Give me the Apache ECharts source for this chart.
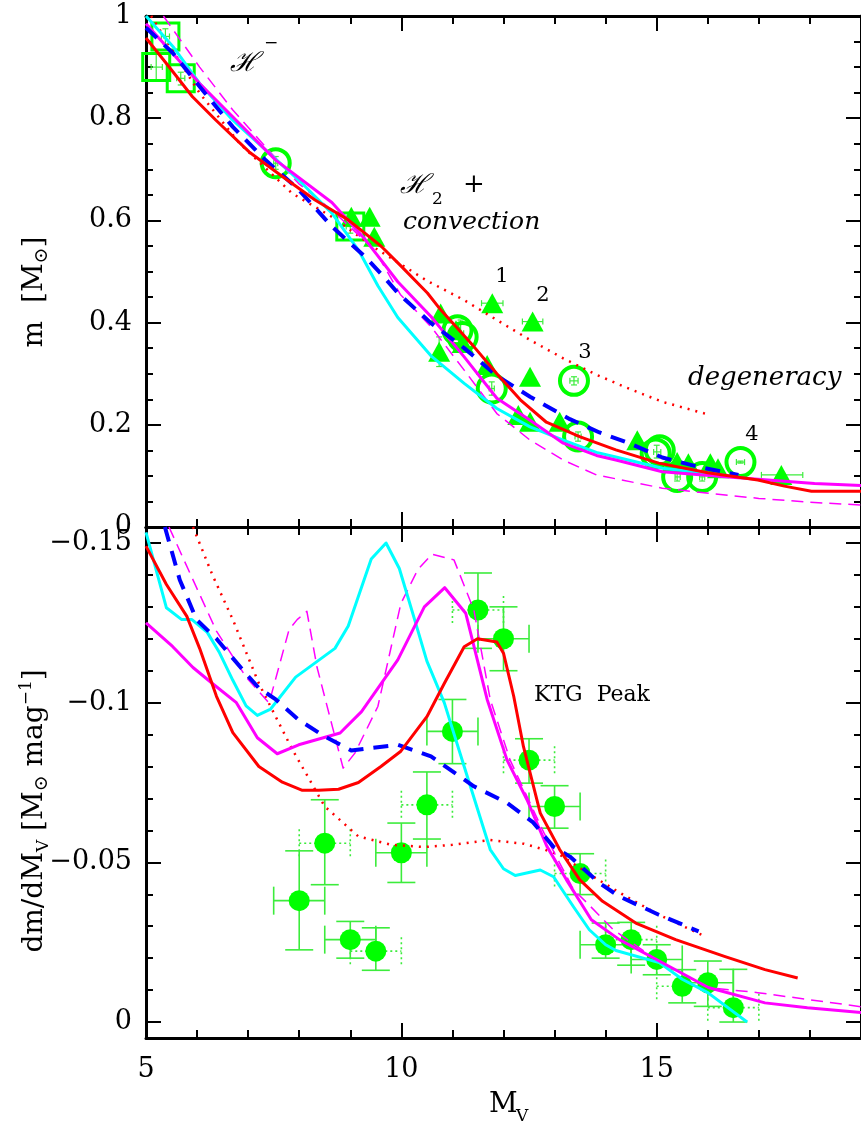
<!DOCTYPE html>
<html><head><meta charset="utf-8">
<script src="https://cdn.jsdelivr.net/npm/echarts@6/dist/echarts.min.js"></script>
<style>html,body{margin:0;padding:0;background:#fff}#c{width:861px;height:1132px}</style>
</head><body><div id="c"></div>
<script>
// ===== Top panel: mass m [Msun] vs M_V =====
const redM_x = [5.0, 5.4, 5.91, 6.37, 7.02, 7.67, 8.31, 8.96, 9.61, 10.0, 10.51, 10.77, 11.42, 11.87, 12.33, 12.84, 13.49, 14.2, 15.04, 16.0, 16.98, 17.5, 18.03, 19.0];
const redM_y = [0.957, 0.907, 0.842, 0.796, 0.734, 0.686, 0.640, 0.601, 0.549, 0.510, 0.458, 0.425, 0.353, 0.300, 0.249, 0.205, 0.177, 0.151, 0.125, 0.106, 0.092, 0.080, 0.070, 0.070];
const redDotM_x = [5.1, 5.6, 6.05, 6.83, 7.86, 8.64, 9.5, 10.5, 11.23, 11.87, 12.52, 13.17, 13.82, 14.4, 15.11, 16.05];
const redDotM_y = [1.0, 0.92, 0.849, 0.751, 0.653, 0.607, 0.545, 0.482, 0.444, 0.405, 0.366, 0.330, 0.298, 0.273, 0.245, 0.219];
const blueM_x = [5.0, 5.53, 6.05, 6.7, 7.34, 7.99, 8.64, 9.29, 9.67, 9.93, 10.58, 11.23, 11.87, 12.52, 13.3, 13.88, 14.46, 15.11, 15.8, 16.6];
const blueM_y = [0.977, 0.927, 0.862, 0.783, 0.718, 0.660, 0.588, 0.529, 0.488, 0.458, 0.399, 0.350, 0.296, 0.255, 0.211, 0.185, 0.164, 0.136, 0.118, 0.102];
const cyanM_x = [5.0, 5.53, 6.05, 6.7, 7.34, 7.99, 8.64, 9.16, 9.54, 9.93, 10.58, 11.23, 11.87, 12.52, 13.17, 13.82, 14.2, 15.11, 16.08, 16.66];
const cyanM_y = [1.0, 0.94, 0.868, 0.796, 0.738, 0.679, 0.614, 0.542, 0.472, 0.410, 0.335, 0.281, 0.232, 0.196, 0.170, 0.146, 0.137, 0.115, 0.104, 0.097];
const magM_x = [5.0, 6.05, 7.54, 8.64, 9.29, 9.93, 10.58, 11.23, 11.87, 12.52, 13.17, 13.82, 14.2, 15.11, 16.4, 18.09, 19.0];
const magM_y = [0.985, 0.868, 0.718, 0.635, 0.563, 0.480, 0.412, 0.333, 0.252, 0.209, 0.164, 0.140, 0.131, 0.108, 0.098, 0.085, 0.081];
const magDashM_x = [5.34, 6.05, 6.7, 7.34, 7.99, 8.64, 9.48, 9.98, 10.58, 11.23, 11.87, 12.52, 13.17, 13.82, 15.11, 16.4, 17.0, 18.09, 19.0];
const magDashM_y = [1.0, 0.90, 0.816, 0.744, 0.672, 0.620, 0.542, 0.455, 0.392, 0.307, 0.222, 0.170, 0.131, 0.102, 0.076, 0.062, 0.056, 0.048, 0.043];

// observed masses
const sqX = [5.2, 5.38, 5.68, 9.0];
const sqY = [0.90, 0.96, 0.878, 0.588];
const cirX = [7.54, 11.1, 11.2, 11.77, 13.38, 13.46, 14.98, 15.06, 15.4, 15.89, 16.64];
const cirY = [0.712, 0.385, 0.372, 0.271, 0.286, 0.177, 0.144, 0.150, 0.098, 0.098, 0.127];
const triX = [9.02, 9.38, 9.47, 10.77, 10.74, 11.07, 11.2, 11.68, 11.78, 12.57, 12.52, 12.29, 12.52, 13.1, 14.62, 15.4, 15.62, 16.05, 16.2, 17.44];
const triY = [0.607, 0.607, 0.568, 0.418, 0.343, 0.385, 0.36, 0.317, 0.438, 0.402, 0.294, 0.219, 0.206, 0.206, 0.17, 0.127, 0.125, 0.125, 0.115, 0.102];
// small error bars on top-panel points: [Mv, m, mLow, mHigh, MvLow, MvHigh]
const topErr = [
  [5.2, 0.90, 0.875, 0.925, 5.1, 5.32],
  [5.38, 0.96, 0.945, 0.975, 5.3, 5.46],
  [5.68, 0.878, 0.865, 0.89, 5.6, 5.76],
  [7.54, 0.712, 0.70, 0.725, 7.5, 7.58],
  [9.0, 0.588, 0.575, 0.60, 8.92, 9.08],
  [10.74, 0.343, 0.314, 0.372, 10.74, 10.74],
  [11.16, 0.379, 0.365, 0.405, 11.1, 11.22],
  [11.77, 0.271, 0.258, 0.284, 11.72, 11.82],
  [11.78, 0.438, 0.438, 0.438, 11.57, 11.99],
  [12.57, 0.402, 0.402, 0.402, 12.37, 12.77],
  [13.38, 0.286, 0.278, 0.294, 13.3, 13.46],
  [13.46, 0.177, 0.168, 0.186, 13.4, 13.52],
  [15.0, 0.147, 0.135, 0.16, 14.94, 15.08],
  [15.4, 0.098, 0.09, 0.106, 15.36, 15.46],
  [15.89, 0.098, 0.09, 0.106, 15.84, 15.94],
  [16.64, 0.127, 0.125, 0.129, 16.56, 16.72],
  [17.44, 0.102, 0.102, 0.102, 17.05, 17.86]
];

// ===== Bottom panel: dm/dM_V [Msun mag^-1] vs M_V =====
const cyanD_x = [5.0, 5.4, 5.7, 5.9, 6.2, 6.44, 6.7, 6.96, 7.18, 7.44, 7.93, 8.7, 8.96, 9.41, 9.7, 9.96, 10.26, 10.5, 10.84, 11.23, 11.74, 12.0, 12.23, 12.72, 12.98, 13.37, 13.68, 14.0, 14.2, 15.05, 15.5, 16.0, 16.77];
const cyanD_y = [-0.1533, -0.1297, -0.126, -0.126, -0.122, -0.1156, -0.107, -0.099, -0.096, -0.098, -0.108, -0.117, -0.124, -0.145, -0.150, -0.142, -0.126, -0.113, -0.100, -0.080, -0.054, -0.048, -0.0459, -0.0476, -0.0455, -0.0361, -0.0289, -0.0242, -0.0224, -0.0186, -0.0134, -0.0092, 0.0];
const redD_x = [5.0, 5.4, 5.8, 6.05, 6.38, 6.7, 7.21, 7.67, 8.05, 8.38, 8.77, 9.16, 9.6, 9.99, 10.5, 10.84, 11.23, 11.49, 11.87, 12.0, 12.2, 12.39, 12.72, 13.1, 13.49, 13.94, 14.59, 15.37, 16.34, 17.12, 17.76];
const redD_y = [-0.149, -0.137, -0.127, -0.117, -0.102, -0.0906, -0.080, -0.0751, -0.0726, -0.0726, -0.0729, -0.075, -0.080, -0.0848, -0.0956, -0.106, -0.1175, -0.120, -0.119, -0.1155, -0.102, -0.0863, -0.0654, -0.054, -0.0446, -0.0378, -0.031, -0.0258, -0.0205, -0.0164, -0.0138];
const redDotD_x = [5.92, 6.3, 6.7, 7.21, 7.86, 8.5, 9.16, 9.8, 10.45, 11.0, 11.74, 12.4, 12.8, 13.1, 13.75, 14.4, 15.04, 15.95];
const redDotD_y = [-0.155, -0.140, -0.126, -0.106, -0.0855, -0.0675, -0.0581, -0.0555, -0.0548, -0.0555, -0.057, -0.0558, -0.054, -0.0524, -0.0456, -0.0393, -0.0336, -0.0268];
const blueD_x = [5.37, 5.66, 5.99, 6.38, 6.96, 7.21, 7.54, 7.99, 8.5, 9.02, 9.4, 9.93, 10.58, 11.42, 12.07, 12.58, 12.97, 13.3, 13.88, 14.27, 15.04, 15.82];
const blueD_y = [-0.155, -0.1385, -0.126, -0.120, -0.109, -0.1046, -0.101, -0.0946, -0.0894, -0.0850, -0.0858, -0.0868, -0.0832, -0.0738, -0.0686, -0.0625, -0.055, -0.0518, -0.0435, -0.0393, -0.0336, -0.0284];
const magD_x = [5.0, 5.52, 5.92, 6.3, 6.77, 7.18, 7.57, 7.99, 8.8, 9.22, 9.93, 10.45, 10.85, 11.26, 11.68, 12.07, 12.46, 12.85, 13.23, 13.72, 14.27, 15.04, 16.01, 17.12, 17.95, 19.0];
const magD_y = [-0.125, -0.1176, -0.111, -0.106, -0.100, -0.089, -0.084, -0.0868, -0.0905, -0.0972, -0.1134, -0.130, -0.136, -0.128, -0.101, -0.082, -0.0696, -0.055, -0.0446, -0.032, -0.0258, -0.0192, -0.0108, -0.006, -0.0045, -0.003];
const magDashD_x = [5.45, 5.99, 6.38, 6.96, 7.41, 7.8, 7.96, 8.15, 8.35, 8.86, 9.09, 9.54, 9.99, 10.32, 10.6, 11.03, 11.42, 11.74, 12.13, 12.79, 13.37, 13.63, 14.15, 15.04, 16.0, 16.98, 19.0];
const magDashD_y = [-0.155, -0.136, -0.1224, -0.108, -0.0999, -0.1228, -0.126, -0.1286, -0.111, -0.0795, -0.0842, -0.0988, -0.131, -0.1416, -0.1465, -0.1447, -0.129, -0.101, -0.082, -0.0593, -0.0415, -0.0374, -0.0289, -0.019, -0.0108, -0.0092, -0.0048];

// observed mass function points
const ptMv = [8.0, 8.5, 9.0, 9.5, 10.0, 10.5, 11.0, 11.5, 12.0, 12.5, 13.0, 13.5, 14.0, 14.5, 15.0, 15.5, 16.0, 16.5];
const ptD = [-0.038, -0.056, -0.0258, -0.0222, -0.053, -0.068, -0.091, -0.129, -0.120, -0.082, -0.0675, -0.0465, -0.0242, -0.0258, -0.0196, -0.0112, -0.0123, -0.0045];
const errUp = [0.0156, 0.0136, 0.0057, 0.0073, 0.0093, 0.0103, 0.010, 0.0116, 0.010, 0.0067, 0.0065, 0.0062, 0.0068, 0.0054, 0.0046, 0.0052, 0.0068, 0.012];
const errDn = [0.0154, 0.013, 0.0058, 0.006, 0.0093, 0.0107, 0.0101, 0.012, 0.010, 0.0072, 0.0068, 0.0066, 0.0042, 0.008, 0.0048, 0.0052, 0.0074, 0.0045];
const binHalf = [0.5, 0.5, 0.5, 0.5, 0.5, 0.5, 0.5, 0.5, 0.5, 0.5, 0.5, 0.5, 0.5, 0.5, 0.5, 0.5, 0.5, 0.5];

// tick labels
const xTickLabels = [5, 10, 15];

const FONT = 'DejaVu Serif';
const GREEN = '#00ff00';
const ERRC = '#3cec3c';

const chart = echarts.init(document.getElementById('c'), null, {renderer: 'canvas', width: 861, height: 1132});

function xAx(grid, pos, major, labels) {
  return {
    type: 'value', gridIndex: grid, position: pos, min: 5, max: 19, interval: major ? 5 : 1,
    axisLine: {show: major, onZero: false, lineStyle: {color: '#000', width: 3}},
    axisTick: {show: true, inside: true, length: major ? 15 : 8, lineStyle: {color: '#000', width: 2}},
    axisLabel: {show: labels, margin: 18, fontFamily: FONT, fontSize: 27, color: '#000', showMaxLabel: false,
      formatter: v => xTickLabels.indexOf(v) >= 0 ? String(v) : ''},
    splitLine: {show: false}
  };
}
function yTop(pos, labels) {
  return {
    type: 'value', gridIndex: 0, position: pos, min: 0, max: 1, interval: 0.2,
    axisLine: {show: true, onZero: false, lineStyle: {color: '#000', width: 3}},
    axisTick: {show: true, inside: true, length: 15, lineStyle: {color: '#000', width: 2}},
    minorTick: {show: true, splitNumber: 4, length: 7, lineStyle: {color: '#000', width: 2}},
    axisLabel: {show: labels, margin: 14, fontFamily: FONT, fontSize: 27, color: '#000'},
    splitLine: {show: false}, minorSplitLine: {show: false}
  };
}
function yBot(pos, major, labels) {
  return {
    type: 'value', gridIndex: 1, position: pos, min: -0.155, max: 0.005, inverse: true,
    splitNumber: major ? 3 : 16, minInterval: major ? 0.05 : 0.01, maxInterval: major ? 0.05 : 0.01,
    axisLine: {show: major, onZero: false, lineStyle: {color: '#000', width: 3}},
    axisTick: {show: true, inside: true, length: major ? 15 : 7, lineStyle: {color: '#000', width: 2}},
    axisLabel: {show: labels, margin: 14, fontFamily: FONT, fontSize: 27, color: '#000',
      showMinLabel: false, showMaxLabel: false,
      formatter: v => Math.abs(v) < 1e-9 ? '0' : '\u2212' + String(+Math.abs(v).toFixed(3))},
    splitLine: {show: false}
  };
}

function line(xs, ys, xi, yi, color, width, dash) {
  return {
    type: 'line', xAxisIndex: xi, yAxisIndex: yi, data: xs.map((x, i) => [x, ys[i]]),
    showSymbol: false, symbol: 'none', smooth: false, z: 5, silent: true, clip: true,
    lineStyle: {color, width, type: dash || 'solid', cap: 'butt', join: 'round', opacity: 1}
  };
}

function errRender(cap, lw) {
  return function (params, api) {
    const x = api.value(0), y = api.value(1);
    const a = api.coord([x, api.value(2)]), b = api.coord([x, api.value(3)]);
    const c = api.coord([api.value(4), y]), d = api.coord([api.value(5), y]);
    const dotted = api.value(6) === 1;
    const sol = {stroke: ERRC, lineWidth: lw, fill: null};
    const dot = {stroke: ERRC, lineWidth: lw, fill: null, lineDash: [2, 3]};
    const ch = [];
    const L = (x1, y1, x2, y2, s) => ch.push({type: 'line', shape: {x1, y1, x2, y2}, style: s});
    if (Math.abs(a[1] - b[1]) > 0.5) {
      L(a[0], a[1], b[0], b[1], sol);
      L(a[0] - cap, a[1], a[0] + cap, a[1], sol);
      L(b[0] - cap, b[1], b[0] + cap, b[1], sol);
    }
    if (Math.abs(c[0] - d[0]) > 0.5) {
      const hs = dotted ? dot : sol;
      L(c[0], c[1], d[0], d[1], hs);
      L(c[0], c[1] - cap, c[0], c[1] + cap, hs);
      L(d[0], d[1] - cap, d[0], d[1] + cap, hs);
    }
    return {type: 'group', children: ch};
  };
}

const botErrData = ptMv.map((m, i) => [m, ptD[i], ptD[i] - errUp[i], ptD[i] + errDn[i], m - binHalf[i], m + binHalf[i], (m % 1 !== 0) ? 1 : 0]);
const topErrData = topErr.map(r => r.concat([0]));

const option = {
  animation: false,
  backgroundColor: '#fff',
  grid: [
    {left: 146, top: 16, width: 720.5, height: 511, containLabel: false},
    {left: 146, top: 527, width: 720.5, height: 511, containLabel: false}
  ],
  xAxis: [
    xAx(0, 'bottom', true, false), xAx(0, 'top', true, false), xAx(0, 'bottom', false, false), xAx(0, 'top', false, false),
    xAx(1, 'bottom', true, true), xAx(1, 'top', true, false), xAx(1, 'bottom', false, false), xAx(1, 'top', false, false)
  ],
  yAxis: [
    yTop('left', true), yTop('right', false),
    yBot('left', true, true), yBot('left', false, false), yBot('right', true, false), yBot('right', false, false)
  ],
  series: [
    // top panel points
    {type: 'custom', xAxisIndex: 0, yAxisIndex: 0, renderItem: errRender(3, 1.2), data: topErrData, z: 2, silent: true,
      encode: {x: [0, 4, 5], y: [1, 2, 3]}},
    {type: 'scatter', xAxisIndex: 0, yAxisIndex: 0, symbol: 'rect', symbolSize: 27, z: 3, silent: true,
      itemStyle: {color: 'rgba(0,0,0,0)', borderColor: GREEN, borderWidth: 3, opacity: 1}, data: sqX.map((x, i) => [x, sqY[i]])},
    {type: 'scatter', xAxisIndex: 0, yAxisIndex: 0, symbol: 'circle', symbolSize: 28, z: 3, silent: true,
      itemStyle: {color: 'rgba(0,0,0,0)', borderColor: GREEN, borderWidth: 4, opacity: 1}, data: cirX.map((x, i) => [x, cirY[i]])},
    {type: 'scatter', xAxisIndex: 0, yAxisIndex: 0, symbol: 'triangle', symbolSize: [22, 20], z: 3, silent: true,
      itemStyle: {color: GREEN, opacity: 1}, data: triX.map((x, i) => [x, triY[i]])},
    // top panel curves
    line(redDotM_x, redDotM_y, 0, 0, '#ff0000', 2.5, [2, 6]),
    line(magDashM_x, magDashM_y, 0, 0, '#ff00ff', 1.5, [12, 7]),
    line(cyanM_x, cyanM_y, 0, 0, '#00ffff', 3),
    line(magM_x, magM_y, 0, 0, '#ff00ff', 3),
    line(blueM_x, blueM_y, 0, 0, '#0000ff', 4, [15, 10]),
    line(redM_x, redM_y, 0, 0, '#ff0000', 3),
    // bottom panel points
    {type: 'custom', xAxisIndex: 4, yAxisIndex: 2, renderItem: errRender(14, 1.6), data: botErrData, z: 2, silent: true,
      encode: {x: [0, 4, 5], y: [1, 2, 3]}},
    {type: 'scatter', xAxisIndex: 4, yAxisIndex: 2, symbol: 'circle', symbolSize: 21, z: 3, silent: true,
      itemStyle: {color: GREEN, opacity: 1}, data: ptMv.map((x, i) => [x, ptD[i]])},
    // bottom panel curves
    line(redDotD_x, redDotD_y, 4, 2, '#ff0000', 2.5, [2, 6]),
    line(magDashD_x, magDashD_y, 4, 2, '#ff00ff', 1.5, [12, 7]),
    line(cyanD_x, cyanD_y, 4, 2, '#00ffff', 3),
    line(magD_x, magD_y, 4, 2, '#ff00ff', 3),
    line(blueD_x, blueD_y, 4, 2, '#0000ff', 4, [15, 10]),
    line(redD_x, redD_y, 4, 2, '#ff0000', 3)
  ],
  graphic: [
    // axis titles
    {type: 'text', x: 35, y: 292, rotation: Math.PI / 2, silent: true, z: 10,
      style: {text: '{a|m  [M}{o|\u2299}{a|]}', align: 'center', verticalAlign: 'middle',
        rich: {a: {fontFamily: FONT, fontSize: 28, fill: '#000', lineHeight: 34},
               o: {fontFamily: FONT, fontSize: 19, fill: '#000', lineHeight: 34, verticalAlign: 'bottom'}}}},
    {type: 'text', x: 35, y: 811, rotation: Math.PI / 2, silent: true, z: 10,
      style: {text: '{a|dm/dM}{s|V}{a| [M}{o|\u2299}{a| mag}{p|\u22121}{a|]}', align: 'center', verticalAlign: 'middle',
        rich: {a: {fontFamily: FONT, fontSize: 28, fill: '#000', lineHeight: 34},
               s: {fontFamily: FONT, fontSize: 17, fill: '#000', lineHeight: 34, verticalAlign: 'bottom'},
               o: {fontFamily: FONT, fontSize: 19, fill: '#000', lineHeight: 34, verticalAlign: 'bottom'},
               p: {fontFamily: FONT, fontSize: 17, fill: '#000', lineHeight: 34, verticalAlign: 'top'}}}},
    {type: 'text', x: 489, y: 1105, silent: true, style: {text: 'M', font: '28px "DejaVu Serif"', fill: '#000', align: 'left', verticalAlign: 'middle'}},
    {type: 'text', x: 516, y: 1117, silent: true, style: {text: 'V', font: '17px "DejaVu Serif"', fill: '#000', align: 'left', verticalAlign: 'middle'}},
    // annotations top
    {type: 'text', x: 230, y: 64, silent: true, style: {text: '\u210B', font: 'italic 27px "DejaVu Serif"', fill: '#000', align: 'left', verticalAlign: 'middle'}},
    {type: 'text', x: 264, y: 44, silent: true, style: {text: '\u2212', font: '17px "DejaVu Serif"', fill: '#000', align: 'left', verticalAlign: 'middle'}},
    {type: 'text', x: 400, y: 186, silent: true, style: {text: '\u210B', font: 'italic 27px "DejaVu Serif"', fill: '#000', align: 'left', verticalAlign: 'middle'}},
    {type: 'text', x: 432, y: 200, silent: true, style: {text: '2', font: '17px "DejaVu Serif"', fill: '#000', align: 'left', verticalAlign: 'middle'}},
    {type: 'text', x: 463, y: 185, silent: true, style: {text: '+', font: '26px "DejaVu Serif"', fill: '#000', align: 'left', verticalAlign: 'middle'}},
    {type: 'text', x: 403, y: 222, silent: true, style: {text: 'convection', font: 'italic 25px "DejaVu Serif"', fill: '#000', align: 'left', verticalAlign: 'middle'}},
    {type: 'text', x: 688, y: 378, silent: true, style: {text: 'degeneracy', font: 'italic 26px "DejaVu Serif"', fill: '#000', align: 'left', verticalAlign: 'middle'}},
    {type: 'text', x: 502, y: 277, silent: true, style: {text: '1', font: '21px "DejaVu Serif"', fill: '#000', align: 'center', verticalAlign: 'middle'}},
    {type: 'text', x: 543, y: 296, silent: true, style: {text: '2', font: '21px "DejaVu Serif"', fill: '#000', align: 'center', verticalAlign: 'middle'}},
    {type: 'text', x: 585, y: 353, silent: true, style: {text: '3', font: '21px "DejaVu Serif"', fill: '#000', align: 'center', verticalAlign: 'middle'}},
    {type: 'text', x: 752, y: 435, silent: true, style: {text: '4', font: '21px "DejaVu Serif"', fill: '#000', align: 'center', verticalAlign: 'middle'}},
    // annotation bottom
    {type: 'text', x: 534, y: 695, silent: true, style: {text: 'KTG  Peak', font: '22px "DejaVu Serif"', fill: '#000', align: 'left', verticalAlign: 'middle'}}
  ]
};
chart.setOption(option);
</script>
</body></html>
